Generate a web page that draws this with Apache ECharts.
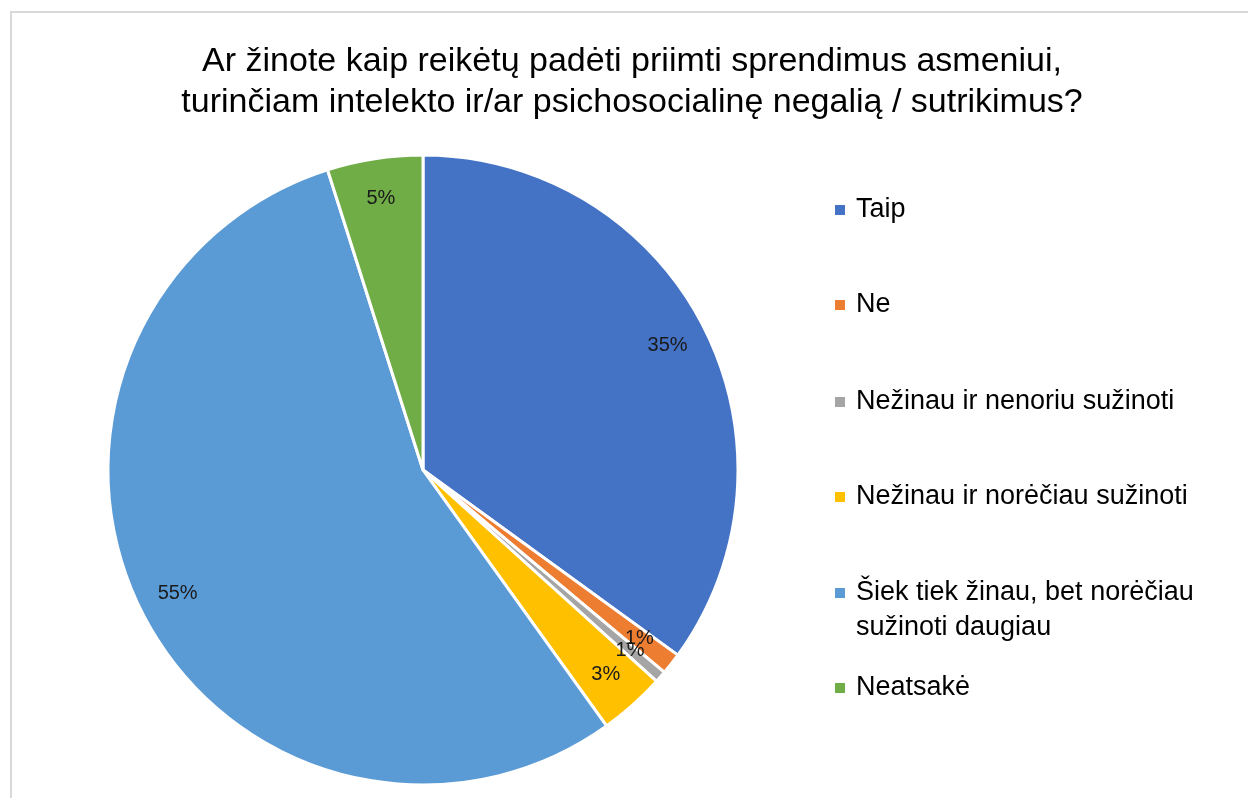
<!DOCTYPE html>
<html>
<head>
<meta charset="UTF-8">
<title>Pie</title>
<script src="https://cdn.jsdelivr.net/npm/echarts@6/dist/echarts.min.js"></script>
<style>
  html, body { margin: 0; padding: 0; background: #fff; }
  #main { width: 1248px; height: 798px; }
</style>
</head>
<body>
<div id="main"></div>
<script>
// categories and values (percent shares)
var categories = ['Taip', 'Ne', 'Nežinau ir nenoriu sužinoti', 'Nežinau ir norėčiau sužinoti', 'Šiek tiek žinau, bet norėčiau sužinoti daugiau', 'Neatsakė'];
var values = [35, 1.1, 0.6, 3.4, 55.0, 4.9];
var colors = ['#4472C4', '#ED7D31', '#A5A5A5', '#FFC000', '#5B9BD5', '#70AD47'];
// legend text lines: [category index, line text, line center y, show marker]
var legendLines = [
  [0, 'Taip', 210, true],
  [1, 'Ne', 305, true],
  [2, 'Nežinau ir nenoriu sužinoti', 402, true],
  [3, 'Nežinau ir norėčiau sužinoti', 497, true],
  [4, 'Šiek tiek žinau, bet norėčiau', 593, true],
  [4, 'sužinoti daugiau', 628, false],
  [5, 'Neatsakė', 688, true]
];

var FONT = 'Liberation Sans';
var pieData = [];
for (var i = 0; i < categories.length; i++) {
  pieData.push({ name: categories[i], value: values[i], itemStyle: { color: colors[i] } });
}

// one legend per text line so spacing can follow the original
var legends = legendLines.map(function (ln) {
  var txt = ln[1];
  var lg = {
    data: [categories[ln[0]]],
    left: 833,
    top: ln[2] - 17.5,
    padding: 0,
    itemWidth: 12,
    itemHeight: 12,
    icon: 'rect',
    selectedMode: false,
    formatter: function () { return txt; },
    textStyle: {
      fontFamily: FONT,
      fontSize: 27,
      color: '#000',
      lineHeight: 35,
      padding: [0, 0, 0, 5]
    }
  };
  if (!ln[3]) {
    lg.itemStyle = { color: 'rgba(0,0,0,0)', opacity: 0 };
  }
  return lg;
});

var chart = echarts.init(document.getElementById('main'));
var option = {
  animation: false,
  title: {
    text: 'Ar žinote kaip reikėtų padėti priimti sprendimus asmeniui,\nturinčiam intelekto ir/ar psichosocialinę negalią / sutrikimus?',
    left: 632,
    top: 41,
    padding: 0,
    textAlign: 'center',
    textStyle: {
      fontFamily: FONT,
      fontSize: 34,
      fontWeight: 'normal',
      color: '#000',
      lineHeight: 41
    }
  },
  legend: legends,
  graphic: [{
    type: 'rect',
    shape: { x: 11, y: 12, width: 2000, height: 2000 },
    style: { fill: 'none', stroke: '#d9d9d9', lineWidth: 2 },
    silent: true
  }],
  series: [{
    type: 'pie',
    center: [423, 470],
    radius: 315,
    startAngle: 90,
    clockwise: true,
    avoidLabelOverlap: false,
    itemStyle: { borderColor: '#fff', borderWidth: 3 },
    label: { show: false },
    labelLine: { show: false },
    emphasis: { disabled: true },
    data: pieData
  }, {
    // transparent ring used only to place the labels near the rim
    type: 'pie',
    center: [423, 470],
    radius: [228, 315],
    startAngle: 90,
    clockwise: true,
    avoidLabelOverlap: false,
    silent: true,
    labelLayout: { hideOverlap: false },
    itemStyle: { color: 'rgba(0,0,0,0)', borderWidth: 0 },
    label: {
      show: true,
      position: 'inside',
      fontFamily: FONT,
      fontSize: 20,
      color: '#1a1a1a',
      formatter: function (p) { return Math.round(p.value) + '%'; }
    },
    labelLine: { show: false },
    emphasis: { disabled: true },
    data: values.map(function (v, k) { return { name: categories[k], value: v }; })
  }]
};
chart.setOption(option);
</script>
</body>
</html>
